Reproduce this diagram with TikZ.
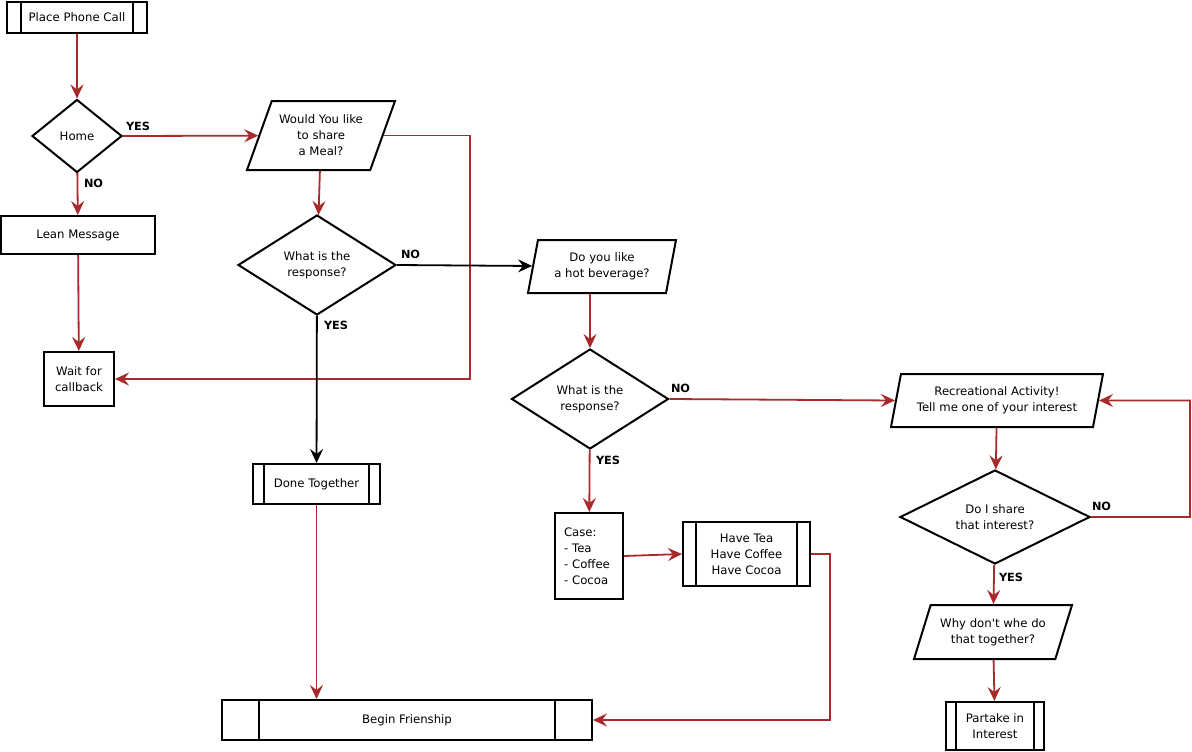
\documentclass[tikz,border=0pt]{standalone}
\usepackage{fontspec}
\setmainfont{DejaVu Sans}
\usetikzlibrary{shapes.geometric,arrows.meta}
\definecolor{flowred}{RGB}{168,42,42}

\begin{document}
\begin{tikzpicture}[x=1pt,y=-1pt,
  font=\fontsize{11.7}{16}\selectfont,
  every node/.style={line width=2pt, inner sep=0pt},
  box/.style={draw, rectangle, align=center},
  subproc/.style={box, path picture={
    \draw[line width=2pt] ([xshift=#1]path picture bounding box.north west) -- ([xshift=#1]path picture bounding box.south west);
    \draw[line width=2pt] ([xshift=-#1]path picture bounding box.north east) -- ([xshift=-#1]path picture bounding box.south east);}},
  decision/.style={draw, diamond, shape aspect=2, align=center},
  io/.style={draw, trapezium, trapezium left angle=#1, trapezium right angle={180-#1}, trapezium stretches body, inner ysep=12pt, align=center},
  link/.style={draw=flowred, line width=1.8pt, -{Stealth[length=14pt,width=13pt,inset=5pt]}},
  answer/.style={font=\fontsize{11.3}{13}\selectfont\bfseries, anchor=west}
]
\useasboundingbox (0,0) rectangle (1192,752);

\node[subproc=14pt, minimum width=140pt, minimum height=31pt] (call) at (77,17.5) {Place Phone Call};
\node[decision, minimum width=90pt, minimum height=73pt] (home) at (77,136) {Home};
\node[box, minimum width=154pt, minimum height=38pt] (lean) at (78,235) {Lean Message};
\node[box, minimum width=70pt, minimum height=54pt] (wait) at (79,379) {Wait for\\callback};
\node[io=70, inner ysep=13.5pt, minimum width=148pt, minimum height=69pt] (meal) at (321,135.5) {Would You like\\to share\\a Meal?};
\node[decision, minimum width=158pt, minimum height=100pt] (mealans) at (317,265) {What is the\\response?};
\node[io=79, minimum width=148pt, minimum height=53pt] (hot) at (602,266.5) {Do you like\\a hot beverage?};
\node[subproc=11pt, minimum width=127pt, minimum height=40pt] (together) at (316.5,484) {Done Together};
\node[subproc=37pt, minimum width=370pt, minimum height=40pt] (begin) at (407,720) {Begin Frienship};
\node[decision, minimum width=157pt, minimum height=100pt] (hotans) at (590,399) {What is the\\response?};
\node[box, align=left, text width=50pt, inner xsep=9pt, minimum height=86pt] (case) at (589,556) {Case:\\- Tea\\- Coffee\\- Cocoa};
\node[subproc=13pt, minimum width=127pt, minimum height=64pt] (drinks) at (746.5,554) {Have Tea\\Have Coffee\\Have Cocoa};
\node[io=79, minimum width=212pt, minimum height=53pt] (hobby) at (997,400.5) {Recreational Activity!\\Tell me one of your interest};
\node[decision, minimum width=190pt, minimum height=94pt] (share) at (995,517) {Do I share\\that interest?};
\node[io=72, minimum width=158pt, minimum height=54pt] (why) at (993,632) {Why don\textquotesingle t whe do\\that together?};
\node[subproc=10pt, minimum width=98pt, minimum height=48pt] (partake) at (995,726) {Partake in\\Interest};

% answers
\node[answer] (homeyes) at (125,126) {YES};
\node[answer] (homeno) at (83,183) {NO};
\node[answer] (mealno) at (400,254) {NO};
\node[answer] (mealyes) at (323,325) {YES};
\node[answer] (hotno) at (670,388) {NO};
\node[answer] (hotyes) at (595,460) {YES};
\node[answer] (shareno) at (1091,506) {NO};
\node[answer] (shareyes) at (998,577) {YES};

\coordinate (mealturn) at (470,379);
\coordinate (teaturn) at (830,720);
\coordinate (shareturn) at (1190,400.5);

\draw[link] (call) -- (home);
\draw[link] (home.east) -- (meal);
\draw[link] (home) -- (lean);
\draw[link] (lean) -- (wait);
\draw[link] (meal) -- (mealans);
\draw[link] (meal.east) -| (mealturn) -- (wait.east);
\draw[link, draw=black] (mealans.east) -- (hot);
\draw[link, draw=black] (mealans) -- (together);
\draw[link] (together.south) -- (together.south |- begin.north);
\draw[link] (hotans.north |- hot.south) -- (hotans.north);
\draw[link] (hotans.east) -- (hobby.west);
\draw[link] (hotans) -- (case);
\draw[link] (case.east) -- (drinks.west);
\draw[link] (drinks.east) -| (teaturn) -- (begin.east);
\draw[link] (hobby) -- (share);
\draw[link] (share.east) -| (shareturn) -- (hobby.east);
\draw[link] (share) -- (why);
\draw[link] (why) -- (partake);
\end{tikzpicture}
\end{document}
